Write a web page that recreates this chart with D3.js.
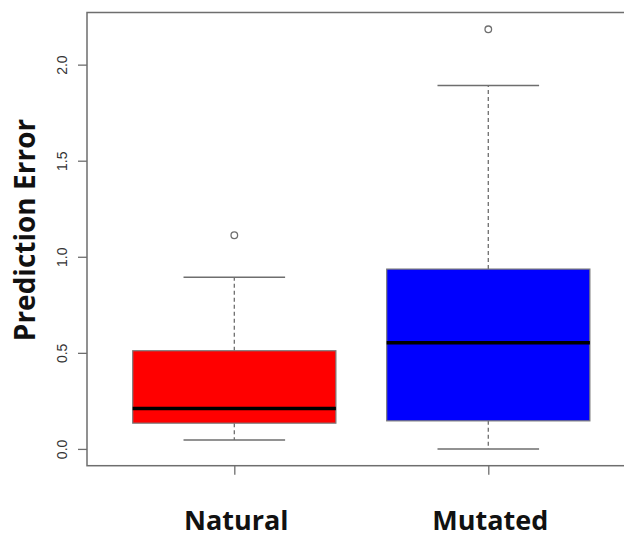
<!DOCTYPE html>
<html lang="en">
    <head>
        <meta charset="utf-8">
        <title>Prediction error boxplot</title>
        <script src="https://cdnjs.cloudflare.com/ajax/libs/d3/7.8.5/d3.min.js"></script>
        <style>
        body{ margin:0; background:#fff; }
        svg{ display:block; }
        </style>
    </head>
    <body>
        <script type="text/javascript">
            // groups and their box stats
            var groups   = ["Natural", "Mutated"];
            var colors   = ["#ff0000", "#0000ff"];
            var lowWhisk = [0.047, 0.0];
            var q1       = [0.134, 0.146];
            var medians  = [0.210, 0.553];
            var q3       = [0.511, 0.936];
            var hiWhisk  = [0.894, 1.892];
            var outliers = [[1.112], [2.184]];
            var yTicks   = [0.0, 0.5, 1.0, 1.5, 2.0];

            function drawChart(){
                var w = 624, h = 538;
                // plot region (right edge runs past the picture, as in the original)
                var pLeft = 87, pTop = 12.5, pBottom = 465.7, pRight = 635.6;

                var svg = d3.select("body").append("svg")
                    .attr("width", w).attr("height", h);

                // R style: 4% padding on both axes
                var yMin = d3.min(lowWhisk), yMax = d3.max(outliers.flat());
                var pad = (yMax - yMin) * 0.04;
                var y = d3.scaleLinear().domain([yMin - pad, yMax + pad]).range([pBottom, pTop]);
                var x = d3.scaleLinear().domain([0.42, 2.58]).range([pLeft, pRight]);

                var grey = "#6e6e6e";
                var data = groups.map(function(g, i){
                    return {name:g, pos:i+1, col:colors[i], lo:lowWhisk[i], q1:q1[i],
                            med:medians[i], q3:q3[i], hi:hiWhisk[i], out:outliers[i]};
                });
                var half = x(1.4) - x(1);      // boxwex 0.8
                var cap = half / 2;            // staplewex 0.5

                var g = svg.selectAll("g.box").data(data).enter().append("g").attr("class","box");

                // dashed whiskers
                g.append("line").attr("x1", d => x(d.pos)).attr("x2", d => x(d.pos))
                    .attr("y1", d => y(d.q3)).attr("y2", d => y(d.hi))
                    .attr("stroke", grey).attr("stroke-width", 1.3).attr("stroke-dasharray", "4,3");
                g.append("line").attr("x1", d => x(d.pos)).attr("x2", d => x(d.pos))
                    .attr("y1", d => y(d.q1)).attr("y2", d => y(d.lo))
                    .attr("stroke", grey).attr("stroke-width", 1.3).attr("stroke-dasharray", "4,3");
                // caps
                ["hi","lo"].forEach(function(k){
                    g.append("line").attr("x1", d => x(d.pos) - cap).attr("x2", d => x(d.pos) + cap)
                        .attr("y1", d => y(d[k])).attr("y2", d => y(d[k]))
                        .attr("stroke", grey).attr("stroke-width", 1.5);
                });
                // boxes
                g.append("rect").attr("x", d => x(d.pos) - half).attr("width", half*2)
                    .attr("y", d => y(d.q3)).attr("height", d => y(d.q1) - y(d.q3))
                    .attr("fill", d => d.col).attr("stroke", "#7a7a7a").attr("stroke-width", 1.2);
                // medians
                g.append("line").attr("x1", d => x(d.pos) - half).attr("x2", d => x(d.pos) + half)
                    .attr("y1", d => y(d.med)).attr("y2", d => y(d.med))
                    .attr("stroke", "#000").attr("stroke-width", 3.5);
                // outliers
                g.selectAll("circle").data(d => d.out.map(v => ({pos:d.pos, v:v}))).enter()
                    .append("circle").attr("cx", d => x(d.pos)).attr("cy", d => y(d.v))
                    .attr("r", 3.3).attr("fill", "none").attr("stroke", grey).attr("stroke-width", 1.3);

                // frame
                svg.append("rect").attr("x", pLeft).attr("y", pTop)
                    .attr("width", pRight - pLeft).attr("height", pBottom - pTop)
                    .attr("fill", "none").attr("stroke", grey).attr("stroke-width", 1.5);

                // y axis
                var yAxis = svg.append("g").attr("transform", "translate(" + pLeft + ",0)")
                    .call(d3.axisLeft(y).tickValues(yTicks).tickFormat(d3.format(".1f")).tickSize(9).tickPadding(6));
                yAxis.select(".domain").remove();
                yAxis.selectAll(".tick line").attr("stroke", grey).attr("stroke-width", 1.3);
                yAxis.selectAll(".tick text")
                    .attr("transform", "rotate(-90)").attr("x", 0).attr("y", -20)
                    .attr("text-anchor", "middle").attr("dy", 0)
                    .style("font-family", "'Liberation Sans', Arial, sans-serif")
                    .style("font-size", "14px").attr("fill", "#333");

                // x axis
                var xAxis = svg.append("g").attr("transform", "translate(0," + pBottom + ")")
                    .call(d3.axisBottom(x).tickValues([1, 2]).tickSize(9).tickFormat(""));
                xAxis.select(".domain").remove();
                xAxis.selectAll(".tick line").attr("stroke", grey).attr("stroke-width", 1.3);

                // category labels
                svg.selectAll("text.cat").data(data).enter().append("text").attr("class","cat")
                    .attr("x", d => x(d.pos) + 2).attr("y", 530)
                    .attr("text-anchor", "middle")
                    .style("font-family", "'Open Sans', sans-serif").style("font-weight", "bold")
                    .style("font-size", "27px").attr("fill", "#111")
                    .text(d => d.name);

                // y label
                svg.append("text")
                    .attr("transform", "translate(35,230) rotate(-90)")
                    .attr("text-anchor", "middle")
                    .style("font-family", "'Open Sans', sans-serif").style("font-weight", "bold")
                    .style("font-size", "28px").attr("fill", "#111")
                    .text("Prediction Error");
            }
            drawChart();
        </script>
    </body>
</html>
